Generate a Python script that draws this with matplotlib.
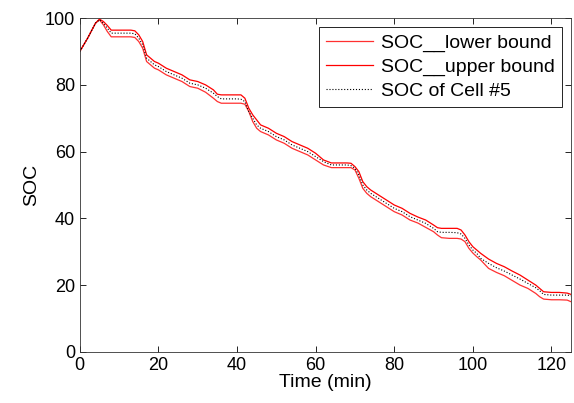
import numpy as np
import matplotlib
matplotlib.use("Agg")
import matplotlib.pyplot as plt

plt.rcParams['font.family'] = ['Liberation Sans', 'DejaVu Sans']

# time axis (min)
t = [0, 2, 4, 5, 6, 7, 8, 10, 12, 13, 14, 15, 16, 17, 18, 19, 20, 22, 24, 26, 28, 30,
     32, 34, 35, 36, 38, 40, 41, 42, 43, 44, 45, 46, 48, 50, 52, 54, 56, 58, 60, 62,
     64, 66, 68, 69, 70, 71, 72, 73, 74, 76, 78, 80, 82, 84, 86, 88, 90, 91, 92, 94,
     96, 97, 98, 99, 100, 101, 102, 104, 106, 108, 110, 112, 114, 116, 117, 118, 120,
     122, 124, 125]

soc_cell5 = [90, 94, 98.5, 99.5, 98.5, 97, 95.5, 95.5, 95.5, 95.5, 95.3, 94, 92, 88, 87,
             86, 85.5, 84, 83, 82, 80.5, 80, 79, 77.5, 76.5, 75.8, 75.8, 75.8, 75.7, 75,
             72, 70, 68, 67, 66, 64.5, 63.5, 62, 61, 60, 58.5, 57, 56, 56, 56, 55.8, 55,
             53, 50, 48.5, 47.5, 46, 44.5, 43, 42, 40.5, 39.5, 38.5, 37, 36, 35.8, 35.8,
             35.7, 35.3, 34, 32, 30.5, 29.5, 28, 26.5, 25.2, 24.2, 23, 21.8, 20.5, 19.2,
             18.3, 17.2, 17, 17, 17, 16.8]

soc_upper = [90, 94, 98.5, 99.7, 99, 97.8, 96.4, 96.4, 96.4, 96.4, 96.2, 95, 93, 89, 88,
             87, 86.5, 85, 84, 83, 81.5, 81, 80, 78.5, 77.2, 77, 77, 77, 77, 76, 73, 71,
             69.5, 68, 67, 65.5, 64.5, 63, 62, 61, 59.5, 57.5, 56.6, 56.6, 56.6, 56.5,
             55.5, 54, 51, 49.5, 48.5, 47, 45.5, 44, 43, 41.5, 40.4, 39.5, 38, 37.2, 37,
             37, 37, 36.5, 35, 33, 31.5, 30.5, 29.5, 27.8, 26.5, 25.5, 24.2, 23, 21.5, 20,
             19, 18, 17.8, 17.8, 17.6, 17.2]

soc_lower = [90, 94, 98.5, 99.5, 98, 96, 94.4, 94.4, 94.4, 94.4, 94.2, 93, 91, 87, 86, 85,
             84.5, 83, 82, 81, 79.5, 79, 77.8, 76, 75, 74.5, 74.5, 74.5, 74.5, 74.2, 72,
             69, 67, 66, 65, 63.5, 62.5, 61, 60, 59, 57.5, 56, 55.2, 55.2, 55.2, 55.2,
             54.5, 52, 49, 47.5, 46.5, 45, 43.5, 42, 41, 39.5, 38.6, 37.3, 36, 35, 34.2,
             34, 34, 33.8, 33, 31, 29.6, 28.5, 27.5, 25, 23.8, 22.8, 21.4, 20, 19, 17.5,
             16.5, 15.8, 15.6, 15.6, 15.5, 15]

fig = plt.figure(figsize=(5.74, 4.03), dpi=100)
ax = fig.add_axes([0.139, 0.127, 0.856, 0.828])

ax.plot(t, soc_lower, color='#ff3030', lw=0.9, label='SOC__lower bound')
ax.plot(t, soc_upper, color='red', lw=0.9, label='SOC__upper bound')
ax.plot(t, soc_cell5, color='black', lw=0.8, ls=':', label='SOC of Cell #5')

ax.set_xlim(0, 125)
ax.set_ylim(0, 100)
ax.set_xticks(np.arange(0, 121, 20))
ax.set_yticks(np.arange(0, 101, 20))
ax.tick_params(direction='in', top=True, right=True, labelsize=13, length=4, width=0.6)
for s in ax.spines.values():
    s.set_linewidth(0.6)
    s.set_color('#333333')

ax.set_xlabel('Time (min)', fontsize=14, labelpad=0)
ax.set_ylabel('SOC', fontsize=14, labelpad=3)

leg = ax.legend(loc='upper right', fontsize=14, fancybox=False, framealpha=1,
                edgecolor='black', handlelength=2.4, borderaxespad=0.45,
                labelspacing=0.3, handletextpad=0.4, borderpad=0.4)
leg.get_frame().set_linewidth(0.6)

fig.savefig('out.png', dpi=100)
